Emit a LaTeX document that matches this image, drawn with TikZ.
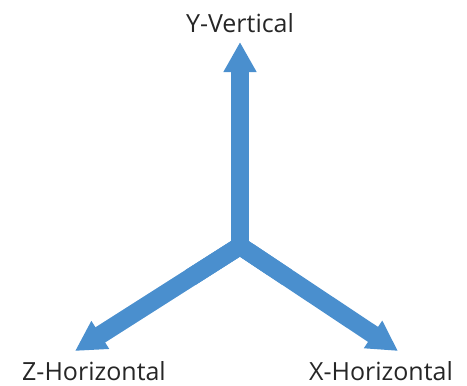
\documentclass[tikz,border=0pt]{standalone}
\usepackage{fontspec}
\setmainfont{Open Sans}
\usetikzlibrary{arrows.meta,calc}
\definecolor{axisblue}{HTML}{4A8FCE}
\definecolor{labelgray}{HTML}{262626}
\tikzset{
  axisarrow/.style={draw=axisblue, line width=18pt, line join=miter, line cap=butt,
    -{Triangle[width=31pt,length=30pt]}},
  axislabel/.style={text=labelgray, font=\fontsize{25pt}{28pt}\selectfont, inner sep=0pt, anchor=base}
}
\begin{document}
\begin{tikzpicture}[x=1pt,y=-1pt]
\useasboundingbox (0,0) rectangle (467,386);
\coordinate (c) at (240,246);
\coordinate (ytip) at (240,42);
\coordinate (ztip) at (75,351);
\coordinate (xtip) at (398,351);
\draw[axisblue, line width=18pt, line join=miter] ($(c)!0.3!(ztip)$) -- (c) -- ($(c)!0.3!(xtip)$);
\draw[axisarrow] (c) -- (ztip);
\draw[axisarrow] (c) -- (xtip);
\draw[axisarrow] (c) -- (ytip);
\node[axislabel] (ylab) at (240,32) {Y-Vertical};
\node[axislabel] (zlab) at (94,380) {Z-Horizontal};
\node[axislabel] (xlab) at (381,380) {X-Horizontal};
\end{tikzpicture}
\end{document}
